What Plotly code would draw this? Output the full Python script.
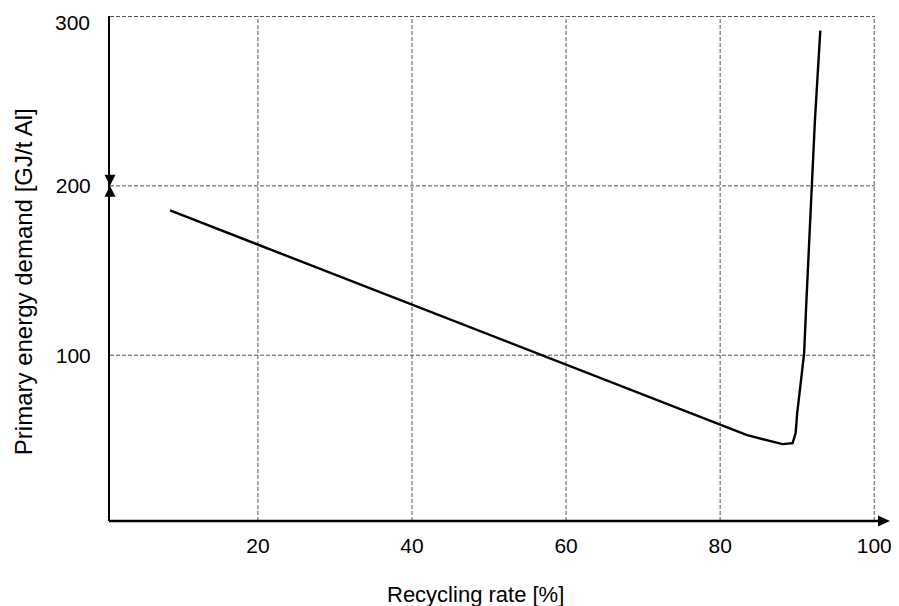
import plotly.graph_objects as go

recycling_rate = [8.6, 83.5, 88.1, 89.4, 89.8, 90.0, 90.5, 90.9, 91.2, 92.3, 93.0]
energy_demand = [185.5, 52.8, 47.5, 48.1, 54.0, 65.8, 85.3, 101.2, 132.4, 238.6, 291.7]
x_ticks = [20, 40, 60, 80, 100]
y_ticks = [100, 200, 300]

FONT = "Liberation Sans, Arial, sans-serif"
GRID = dict(color="#555555", width=1, dash="4px,2px")

fig = go.Figure()
fig.add_trace(go.Scatter(x=recycling_rate, y=energy_demand, mode="lines",
                         line=dict(color="black", width=2.4), showlegend=False,
                         hoverinfo="skip"))

shapes = []
for v in x_ticks:
    shapes.append(dict(type="line", xref="x", yref="paper", x0=v, x1=v, y0=0, y1=1,
                       line=GRID, layer="below"))
for v in y_ticks:
    shapes.append(dict(type="line", xref="paper", yref="y", x0=0, x1=1, y0=v, y1=v,
                       line=GRID, layer="below"))
shapes += [
    # x axis line extended beyond plot
    dict(type="line", xref="paper", yref="paper", x0=-0.0013, x1=1.008, y0=0, y1=0,
         line=dict(color="black", width=2.5)),
    # x axis arrow head
    dict(type="path", xref="paper", yref="paper", xsizemode="pixel", ysizemode="pixel",
         xanchor=1.0196, yanchor=0, path="M0,0 L-12,5.5 L-12,-5.5 Z",
         fillcolor="black", line=dict(color="black", width=0)),
    # y axis arrows at 200
    dict(type="path", xref="paper", yref="y", xsizemode="pixel", ysizemode="pixel",
         xanchor=0, yanchor=200, path="M0,0 L-5.5,11 L5.5,11 Z",
         fillcolor="black", line=dict(color="black", width=0)),
    dict(type="path", xref="paper", yref="y", xsizemode="pixel", ysizemode="pixel",
         xanchor=0, yanchor=200, path="M0,0 L-5.5,-11 L5.5,-11 Z",
         fillcolor="black", line=dict(color="black", width=0)),
]

annotations = [
    dict(text="Recycling rate [%]", xref="paper", yref="paper", x=0.4778, y=-0.1446,
         xanchor="center", yanchor="middle", showarrow=False,
         font=dict(family=FONT, size=22, color="black")),
    dict(text="Primary energy demand [GJ/t Al]", xref="paper", yref="paper",
         x=-0.1137, y=0.473, xanchor="center", yanchor="middle", textangle=-90,
         showarrow=False, font=dict(family=FONT, size=24, color="black")),
    # top tick label, kept inside the page so it is not clipped
    dict(text=str(y_ticks[-1]), xref="paper", yref="y", x=-0.0235, y=y_ticks[-1],
         xanchor="right", yanchor="top", yshift=8, showarrow=False,
         font=dict(family=FONT, size=21, color="black")),
]

fig.update_layout(
    width=891, height=598,
    margin=dict(l=102, r=24, t=8, b=85, autoexpand=False),
    paper_bgcolor="white", plot_bgcolor="white",
    font=dict(family=FONT, size=21, color="black"),
    xaxis=dict(range=[0.8, 100.1], tickvals=x_ticks, ticks="outside", ticklen=6,
               tickcolor="rgba(0,0,0,0)", showline=False, showgrid=False, zeroline=False,
               ticklabeloverflow="allow", automargin=False,
               tickfont=dict(family=FONT, size=21, color="black")),
    yaxis=dict(range=[2.1, 300.3], tickvals=y_ticks[:-1], ticks="outside", ticklen=13,
               tickcolor="rgba(0,0,0,0)", showline=True, linecolor="black", linewidth=2,
               showgrid=False, zeroline=False, ticklabeloverflow="allow", automargin=False,
               tickfont=dict(family=FONT, size=21, color="black")),
    shapes=shapes,
    annotations=annotations,
)

fig.write_html("out.html")
